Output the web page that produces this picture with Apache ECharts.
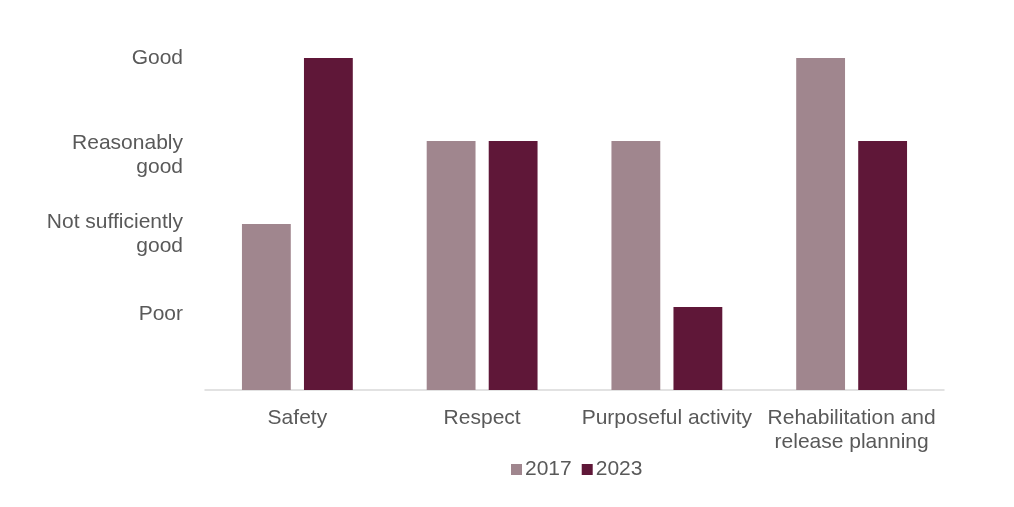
<!DOCTYPE html>
<html>
<head>
<meta charset="utf-8">
<script src="https://cdn.jsdelivr.net/npm/echarts@6/dist/echarts.min.js"></script>
<style>
  html, body { margin: 0; padding: 0; background: #fff; }
  #chart { width: 1014px; height: 507px; }
</style>
</head>
<body>
<div id="chart"></div>
<script>
// categories and ratings (0 = baseline, 1 = Poor ... 4 = Good)
var categories = ['Safety', 'Respect', 'Purposeful activity', 'Rehabilitation and\nrelease planning']
var ratingLabels = ['', 'Poor', 'Not sufficiently\ngood', 'Reasonably\ngood', 'Good']
var seriesNames = ['2017', '2023']
var values2017 = [2, 3, 3, 4]
var values2023 = [4, 3, 1, 3]

var textColor = '#595959'
var fontFamily = '"Liberation Sans", Arial, sans-serif'
var fontSize = 21

var myChart = echarts.init(document.getElementById('chart'))

// spacer line heights so each y label sits where the original puts it
var spacers = [0, 14, 20, 28, 0]

function ratingLabel(value) {
  var idx = Math.round(value)
  var text = ratingLabels[idx]
  if (!text) return ''
  var lines = text.split('\n').map(function (l) { return '{t|' + l + '}' }).join('\n')
  return spacers[idx] ? '{s' + spacers[idx] + '| }\n' + lines : lines
}

var option = {
  backgroundColor: '#ffffff',
  animation: false,
  textStyle: { fontFamily: fontFamily },
  grid: { left: 205, right: 70, top: 58, bottom: 117 },
  legend: {
    data: seriesNames,
    left: 506,
    top: 454,
    itemWidth: 11,
    itemHeight: 11,
    itemGap: 10,
    icon: 'rect',
    textStyle: { color: textColor, fontSize: fontSize, fontFamily: fontFamily, padding: [0, 0, 0, -2] }
  },
  xAxis: {
    type: 'category',
    data: categories,
    axisLine: { show: true, lineStyle: { color: '#d9d9d9', width: 1.5 } },
    axisTick: { show: false },
    axisLabel: {
      color: textColor,
      fontSize: fontSize,
      lineHeight: 24,
      margin: 16,
      fontFamily: fontFamily,
      interval: 0
    }
  },
  yAxis: {
    type: 'value',
    min: 0,
    max: 4,
    interval: 1,
    splitLine: { show: false },
    axisLine: { show: false },
    axisTick: { show: false },
    axisLabel: {
      color: textColor,
      fontSize: fontSize,
      margin: 22,
      fontFamily: fontFamily,
      align: 'right',
      formatter: ratingLabel,
      rich: {
        t: { fontSize: fontSize, lineHeight: 24, color: textColor, fontFamily: fontFamily, align: 'right' },
        s14: { fontSize: 1, lineHeight: 14 },
        s20: { fontSize: 1, lineHeight: 20 },
        s28: { fontSize: 1, lineHeight: 28 }
      }
    }
  },
  series: [
    {
      name: seriesNames[0],
      type: 'bar',
      data: values2017,
      itemStyle: { color: '#a0868e' },
      barGap: '27%',
      barCategoryGap: '40%'
    },
    {
      name: seriesNames[1],
      type: 'bar',
      data: values2023,
      itemStyle: { color: '#5f1738' }
    }
  ]
}

myChart.setOption(option, true)
window.addEventListener('resize', function () { myChart.resize() })
</script>
</body>
</html>
